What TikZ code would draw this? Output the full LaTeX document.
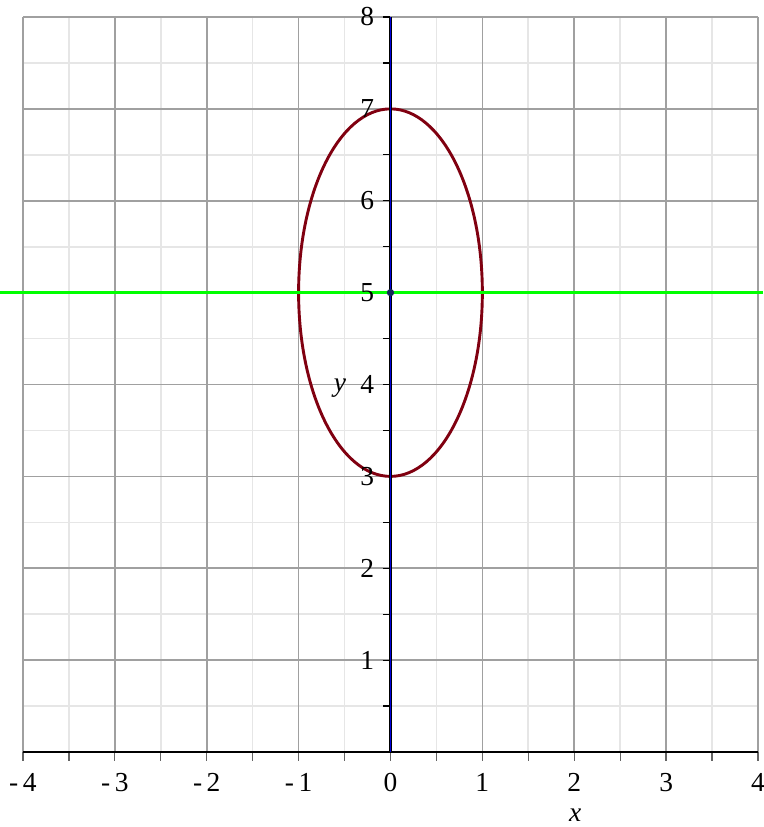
\documentclass[tikz,border=0pt]{standalone}
\usepackage{fontspec}
\setmainfont{Liberation Serif}
\definecolor{minorgray}{RGB}{230,230,230}
\definecolor{majorgray}{RGB}{160,160,160}
\definecolor{tickgray}{RGB}{100,100,100}
\definecolor{ellred}{RGB}{128,0,16}
\definecolor{linegreen}{RGB}{0,255,0}
\definecolor{lineblue}{RGB}{0,0,220}
\definecolor{dotblue}{RGB}{20,40,90}
\begin{document}
\begin{tikzpicture}[x=1cm,y=1cm,
  minorgrid/.style={draw=minorgray,line width=0.5pt},
  majorgrid/.style={draw=majorgray,line width=0.5pt},
  tickmark/.style={draw=tickgray,line width=0.4pt},
  ticklabel/.style={font=\fontsize{8.5}{10}\selectfont,inner sep=0pt},
  axislabel/.style={font=\fontsize{8.5}{10}\selectfont\itshape,inner sep=0pt}]
\useasboundingbox (-4.25,-0.816) rectangle (4.055,8.185);
% minor grid
\foreach \v in {-3.5,-2.5,-1.5,-0.5,0.5,1.5,2.5,3.5}
  \draw[minorgrid] (\v,0) -- (\v,8);
\foreach \v in {0.5,1.5,2.5,3.5,4.5,5.5,6.5,7.5}
  \draw[minorgrid] (-4,\v) -- (4,\v);
% major grid
\foreach \v in {-4,-3,-2,-1,1,2,3,4}
  \draw[majorgrid] (\v,0) -- (\v,8);
\foreach \v in {1,2,3,4,5,6,7,8}
  \draw[majorgrid] (-4,\v) -- (4,\v);
% x ticks
\foreach \v in {-4,-3.5,...,4}
  \draw[tickmark] (\v,0) -- (\v,-0.1);
% y ticks
\foreach \v in {0.5,1,...,8}
  \draw[black,line width=0.4pt] (0,\v) -- (-0.08,\v);
% x axis
\draw[black,line width=0.9pt] (-4,0) -- (4,0);
% curves
\draw[ellred,line width=0.9pt] (0,5) ellipse [x radius=1, y radius=2];
\draw[linegreen,line width=0.9pt] (-4.25,5) -- (4.055,5);
\draw[black,line width=1.1pt] (0,0) -- (0,8);
\draw[lineblue,line width=0.6pt] (0,0) -- (0,8);
\fill[dotblue] (0,5) circle (0.04);
% x labels
\foreach \v/\t in {-4/-\,4,-3/-\,3,-2/-\,2,-1/-\,1,0/0,1/1,2/2,3/3,4/4}
  \node[ticklabel] (xl\v) at (\v,-0.33) {\t};
% y labels
\foreach \v in {1,2,3,4,5,6,7,8}
  \node[ticklabel,anchor=east] (yl\v) at (-0.17,\v) {\v};
\node[axislabel] (xlab) at (2.01,-0.69) {x};
\node[axislabel] (ylab) at (-0.55,3.96) {y};
\end{tikzpicture}
\end{document}
